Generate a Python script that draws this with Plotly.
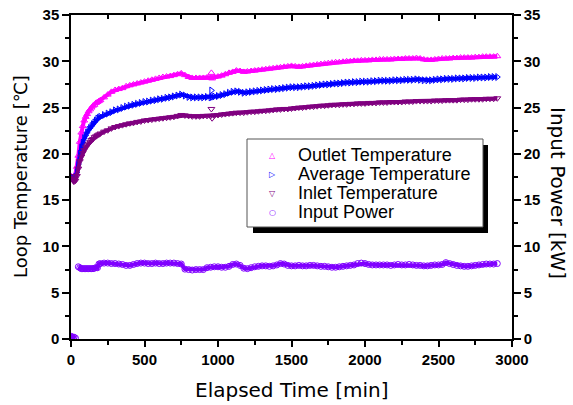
import plotly.graph_objects as go

# ---------------- data ----------------
time_early = [0, 10, 20, 30, 40, 50, 60, 70, 80, 90,
              100, 110, 120, 130, 140, 150, 160, 170, 180, 190]
time_main = list(range(200, 2901, 25))
time_min = time_early + time_main

outlet_early = [17.6, 17.5, 17.4, 17.8, 18.6, 19.8, 21.3, 22.3, 23.0, 23.6,
                24.0, 24.3, 24.6, 24.8, 25.0, 25.2, 25.3, 25.5, 25.6, 25.7]
outlet_main = [
    25.8, 26.1, 26.4, 26.7, 26.9, 27.0, 27.1, 27.3, 27.4, 27.5,
    27.6, 27.7, 27.8, 27.9, 28.0, 28.1, 28.2, 28.3, 28.35, 28.4,
    28.5, 28.6, 28.7, 28.5, 28.3, 28.2, 28.2, 28.2, 28.2, 28.25,
    28.2, 28.3, 28.35, 28.45, 28.6, 28.75, 28.85, 29.0, 28.95, 28.85,
    28.9, 28.95, 29.0, 29.05, 29.1, 29.15, 29.2, 29.25, 29.3, 29.35,
    29.4, 29.45, 29.5, 29.45, 29.4, 29.45, 29.5, 29.55, 29.6, 29.65,
    29.7, 29.75, 29.8, 29.85, 29.9, 29.9, 29.95, 30.0, 30.0, 30.05,
    30.05, 30.1, 30.1, 30.1, 30.15, 30.15, 30.2, 30.2, 30.2, 30.2,
    30.25, 30.25, 30.25, 30.3, 30.3, 30.3, 30.35, 30.3, 30.2, 30.15,
    30.15, 30.2, 30.25, 30.3, 30.3, 30.3, 30.35, 30.35, 30.4, 30.4,
    30.4, 30.4, 30.45, 30.45, 30.5, 30.5, 30.5, 30.5, 30.55]
outlet_temp = outlet_early + outlet_main

average_early = [17.5, 17.4, 17.3, 17.5, 18.0, 18.9, 20.0, 20.7, 21.2, 21.7,
                 22.0, 22.3, 22.6, 22.8, 23.0, 23.2, 23.4, 23.6, 23.8, 23.9]
average_main = [
    24.0, 24.2, 24.35, 24.5, 24.7, 24.8, 24.95, 25.1, 25.2, 25.3,
    25.4, 25.5, 25.6, 25.65, 25.75, 25.8, 25.9, 25.95, 26.05, 26.1,
    26.2, 26.3, 26.4, 26.3, 26.15, 26.1, 26.1, 26.1, 26.1, 26.15,
    26.1, 26.2, 26.25, 26.35, 26.45, 26.6, 26.7, 26.75, 26.7, 26.6,
    26.65, 26.7, 26.75, 26.8, 26.85, 26.9, 26.95, 27.0, 27.0, 27.05,
    27.1, 27.15, 27.2, 27.2, 27.2, 27.25, 27.3, 27.3, 27.35, 27.4,
    27.45, 27.5, 27.5, 27.55, 27.6, 27.6, 27.65, 27.7, 27.7, 27.75,
    27.75, 27.8, 27.8, 27.8, 27.85, 27.85, 27.9, 27.9, 27.9, 27.9,
    27.95, 27.95, 27.95, 28.0, 28.0, 28.0, 28.05, 28.0, 27.95, 27.95,
    27.95, 28.0, 28.05, 28.05, 28.1, 28.1, 28.1, 28.15, 28.15, 28.15,
    28.2, 28.2, 28.2, 28.25, 28.25, 28.25, 28.3, 28.3, 28.3]
average_temp = average_early + average_main

inlet_early = [17.6, 17.2, 17.0, 17.1, 17.6, 18.4, 19.2, 19.7, 20.1, 20.4,
               20.7, 20.9, 21.1, 21.3, 21.5, 21.6, 21.8, 21.9, 22.0, 22.1]
inlet_main = [
    22.2, 22.4, 22.55, 22.75, 22.9, 23.0, 23.1, 23.2, 23.3, 23.35,
    23.45, 23.5, 23.6, 23.65, 23.7, 23.75, 23.8, 23.85, 23.9, 23.95,
    24.0, 24.1, 24.2, 24.15, 24.1, 24.05, 24.05, 24.05, 24.1, 24.1,
    24.1, 24.15, 24.2, 24.25, 24.3, 24.35, 24.4, 24.45, 24.45, 24.45,
    24.5, 24.55, 24.55, 24.6, 24.65, 24.65, 24.7, 24.75, 24.8, 24.8,
    24.85, 24.85, 24.9, 24.95, 25.0, 25.0, 25.05, 25.1, 25.1, 25.15,
    25.2, 25.2, 25.25, 25.3, 25.3, 25.3, 25.35, 25.35, 25.4, 25.4,
    25.45, 25.45, 25.45, 25.5, 25.5, 25.5, 25.55, 25.55, 25.55, 25.6,
    25.6, 25.6, 25.6, 25.65, 25.65, 25.65, 25.7, 25.7, 25.7, 25.7,
    25.7, 25.75, 25.75, 25.75, 25.8, 25.8, 25.8, 25.8, 25.85, 25.85,
    25.85, 25.9, 25.9, 25.9, 25.9, 25.95, 25.95, 25.95, 26.0]
inlet_temp = inlet_early + inlet_main

power_early = [0.3, 0.2, 0.2, 0.1, None, 7.8, 7.7, 7.6, 7.6, 7.6,
               7.6, 7.6, 7.6, 7.6, 7.6, 7.6, 7.65, 7.7, 7.7, 8.1]
power_main = [
    8.15, 8.2, 8.2, 8.15, 8.15, 8.1, 8.05, 7.95, 7.95, 8.05,
    8.15, 8.2, 8.2, 8.15, 8.15, 8.2, 8.15, 8.15, 8.2, 8.2,
    8.2, 8.15, 8.1, 7.55, 7.5, 7.45, 7.5, 7.5, 7.5, 7.7,
    7.75, 7.8, 7.8, 7.75, 7.75, 7.85, 8.05, 8.1, 7.95, 7.65,
    7.6, 7.7, 7.8, 7.85, 7.9, 7.9, 7.85, 7.9, 8.0, 8.15,
    8.1, 7.95, 7.9, 7.9, 7.95, 7.9, 7.9, 7.95, 7.95, 7.9,
    7.85, 7.85, 7.8, 7.75, 7.75, 7.8, 7.85, 7.9, 7.95, 8.0,
    8.15, 8.2, 8.15, 8.05, 8.0, 8.0, 8.0, 8.0, 8.0, 7.95,
    8.0, 8.05, 8.0, 8.0, 8.05, 8.0, 7.95, 7.95, 7.9, 7.9,
    7.95, 8.0, 8.0, 8.05, 8.25, 8.15, 8.05, 7.95, 7.9, 7.85,
    7.85, 7.9, 7.95, 8.0, 8.05, 8.1, 8.1, 8.1, 8.15]
input_power = power_early + power_main

# a few stray readings near t = 955 min
spike_time = [955, 960]
outlet_spike = [28.75, 28.15]
average_spike = [26.85, 26.15]
inlet_spike = [24.85, 23.85]

series_names = ["Outlet Temperature", "Average Temperature",
                "Inlet Temperature", "Input Power"]
x_ticks = [0, 500, 1000, 1500, 2000, 2500, 3000]
y_ticks = [0, 5, 10, 15, 20, 25, 30, 35]

# ---------------- styling ----------------
C_OUT = "#FF00FF"
C_AVG = "#0000FF"
C_IN = "#800080"
C_PWR = "#8000FF"
SYMS = ["triangle-up-open", "triangle-right-open", "triangle-down-open", "circle-open"]
COLORS = [C_OUT, C_AVG, C_IN, C_PWR]
FONT = "Liberation Sans, Arial, sans-serif"
TFONT = "DejaVu Sans, Liberation Sans, sans-serif"

W, H = 573, 405
L, R, T, B = 71, 61, 15, 66
PW, PH = W - L - R, H - T - B


def px_x(p):
    return (p - L) / PW


def px_y(p):
    return (H - B - p) / PH


fig = go.Figure()

temp_series = [outlet_temp, average_temp, inlet_temp]
spikes = [outlet_spike, average_spike, inlet_spike]
for i in range(3):
    fig.add_trace(go.Scatter(
        x=time_min, y=temp_series[i], name=series_names[i], mode="lines+markers",
        line=dict(color=COLORS[i], width=4),
        marker=dict(symbol=SYMS[i], size=6, color=COLORS[i], line=dict(width=1, color=COLORS[i])),
        showlegend=False, xaxis="x", yaxis="y"))
    fig.add_trace(go.Scatter(
        x=spike_time, y=spikes[i], mode="markers",
        marker=dict(symbol=SYMS[i], size=6, color=COLORS[i], line=dict(width=1, color=COLORS[i])),
        showlegend=False, xaxis="x", yaxis="y"))

fig.add_trace(go.Scatter(
    x=time_min, y=input_power, name=series_names[3], mode="lines+markers",
    line=dict(color=C_PWR, width=4),
    marker=dict(symbol=SYMS[3], size=6, color=C_PWR, line=dict(width=1, color=C_PWR)),
    showlegend=False, xaxis="x2", yaxis="y2"))

tickfont = dict(family=FONT, size=15, color="black", weight="bold")
common = dict(showgrid=False, zeroline=False, showline=True, linecolor="black",
              linewidth=1.5, tickcolor="black", tickwidth=1.5, tickfont=tickfont,
              automargin=False)

fig.update_layout(
    width=W, height=H, margin=dict(l=L, r=R, t=T, b=B, autoexpand=False),
    paper_bgcolor="white", plot_bgcolor="white", showlegend=False,
    xaxis=dict(range=[0, 3000], tickvals=x_ticks, ticks="outside", ticklen=6,
               minor=dict(dtick=250, ticks="outside", ticklen=4, tickcolor="black", tickwidth=1.5),
               **common),
    xaxis2=dict(range=[0, 3000], tickvals=x_ticks, ticks="inside", ticklen=6,
                overlaying="x", side="top", anchor="y2", showticklabels=False,
                minor=dict(dtick=250, ticks="inside", ticklen=4, tickcolor="black", tickwidth=1.5),
                **common),
    yaxis=dict(range=[0, 35], tickvals=y_ticks, ticks="outside", ticklen=7,
               minor=dict(dtick=2.5, ticks="outside", ticklen=4, tickcolor="black", tickwidth=1.5),
               **common),
    yaxis2=dict(range=[0, 35], tickvals=y_ticks, ticks="outside", ticklen=7,
                overlaying="y", side="right", anchor="x2",
                minor=dict(dtick=2.5, ticks="outside", ticklen=4, tickcolor="black", tickwidth=1.5),
                **common),
)

fig.add_annotation(text="Elapsed Time [min]", xref="paper", yref="paper",
                   x=px_x(292), y=px_y(390), xanchor="center", yanchor="middle",
                   showarrow=False, font=dict(family=TFONT, size=20, color="black"))
fig.add_annotation(text="Loop Temperature [℃]", xref="paper", yref="paper",
                   x=px_x(20), y=px_y(177), xanchor="center", yanchor="middle", textangle=-90,
                   showarrow=False, font=dict(family=TFONT, size=18, color="black"))
fig.add_annotation(text="Input Power [kW]", xref="paper", yref="paper",
                   x=px_x(558), y=px_y(193), xanchor="center", yanchor="middle", textangle=90,
                   showarrow=False, font=dict(family=TFONT, size=20, color="black"))

# legend box with drop shadow
fig.add_shape(type="rect", xref="paper", yref="paper",
              x0=px_x(253), x1=px_x(488), y0=px_y(233), y1=px_y(145),
              fillcolor="black", line=dict(width=0))
fig.add_shape(type="rect", xref="paper", yref="paper",
              x0=px_x(247), x1=px_x(483), y0=px_y(227), y1=px_y(139),
              fillcolor="white", line=dict(color="#555555", width=1))
glyphs = ["△", "▷", "▽", "○"]
rows = [155, 174, 193, 212]
for i in range(4):
    fig.add_annotation(text=glyphs[i], xref="paper", yref="paper",
                       x=px_x(272), y=px_y(rows[i]), xanchor="center", yanchor="middle",
                       showarrow=False, font=dict(family="DejaVu Sans", size=8, color=COLORS[i]))
    fig.add_annotation(text=series_names[i], xref="paper", yref="paper",
                       x=px_x(296), y=px_y(rows[i]), xanchor="left", yanchor="middle",
                       showarrow=False, font=dict(family=FONT, size=18, color="black"))

fig.write_html("out.html", config={"displayModeBar": False},
               post_script="document.body.style.margin='0';document.body.style.padding='0';")
